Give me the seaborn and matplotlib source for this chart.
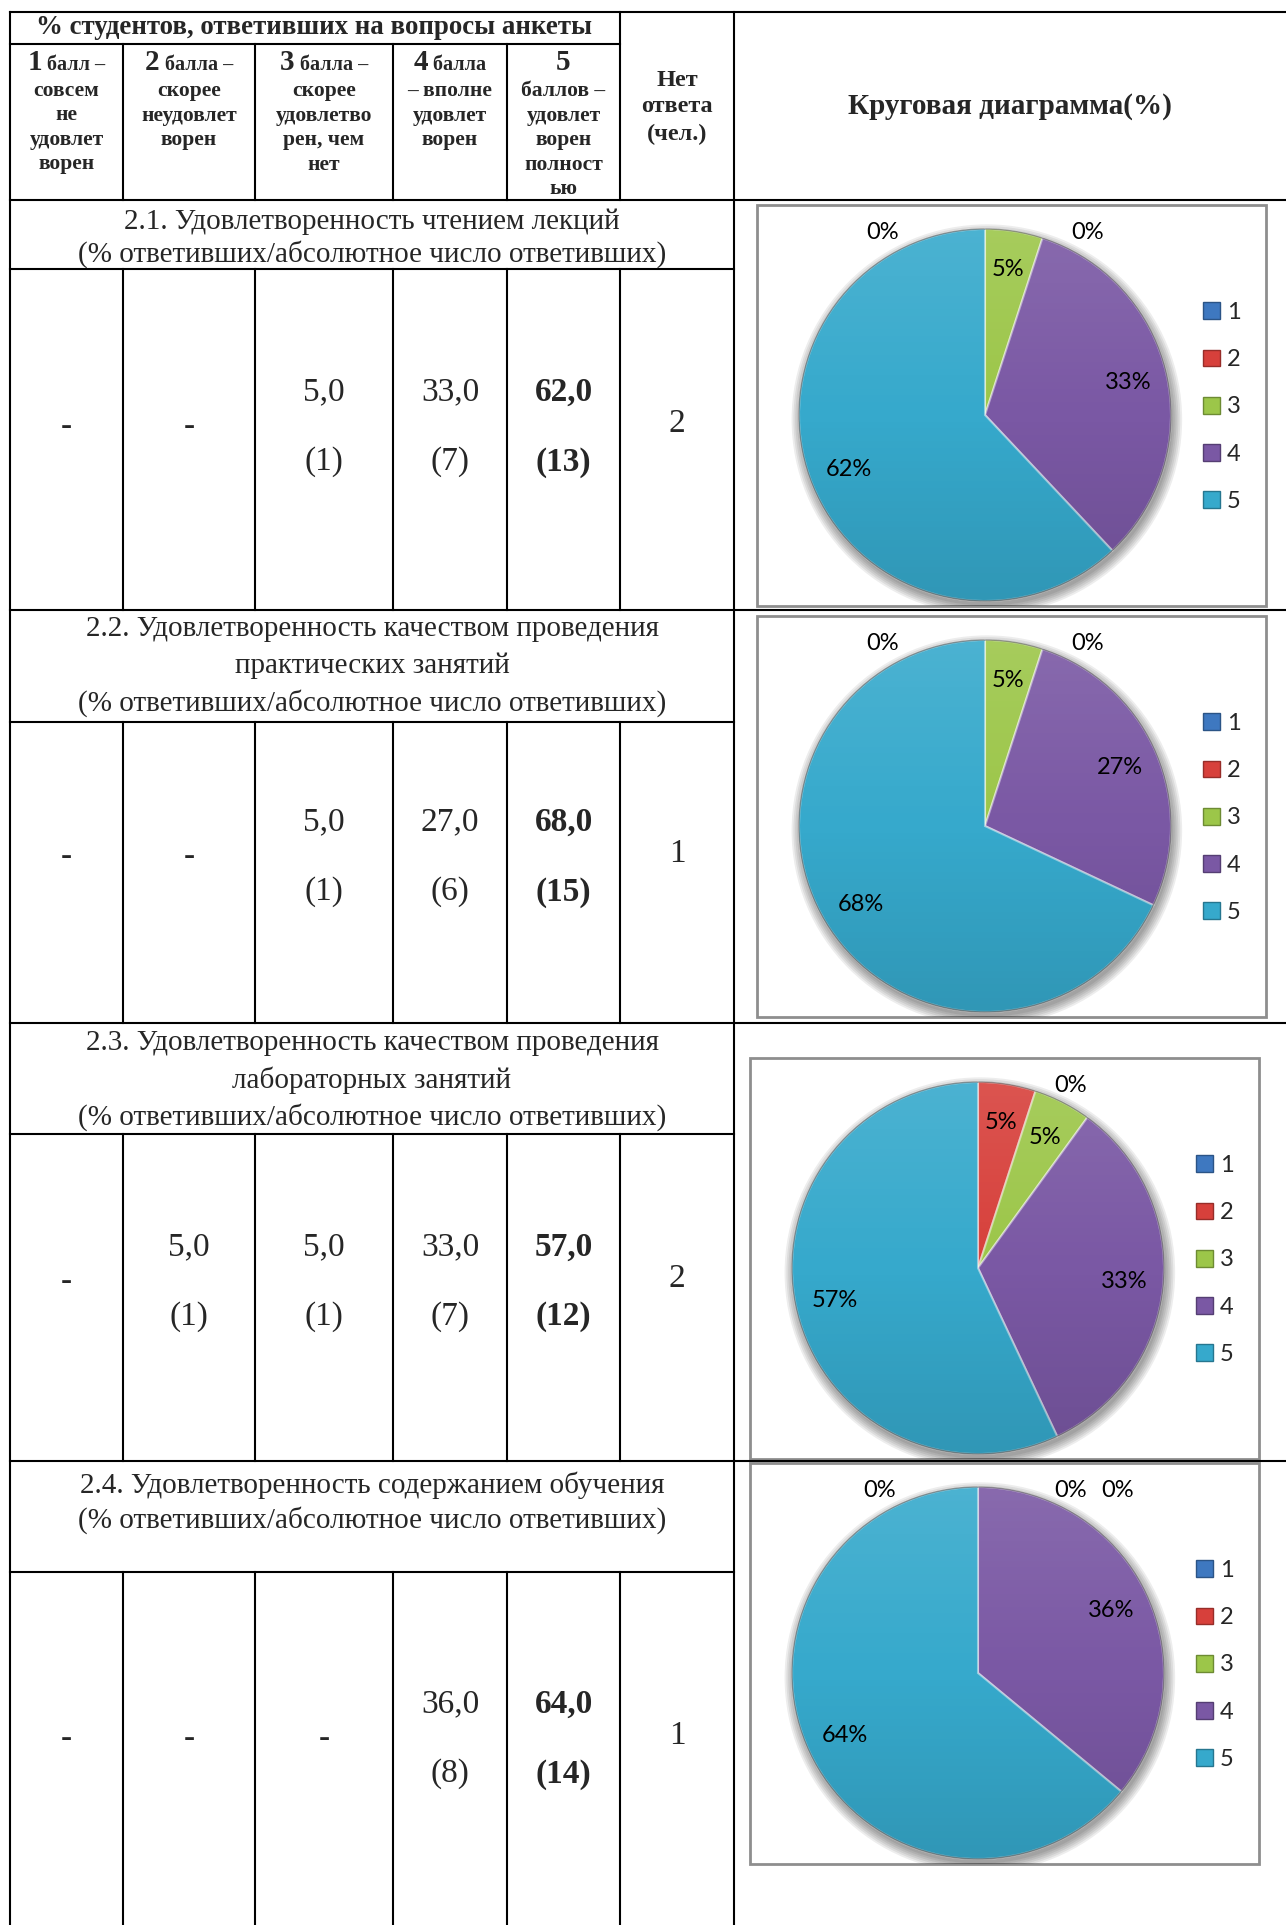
import matplotlib
matplotlib.use("Agg")
import matplotlib.pyplot as plt
import numpy as np
import seaborn as sns
from matplotlib.patches import Rectangle, Circle, Patch

# ---- data ----
categories = ["1", "2", "3", "4", "5"]

section_titles = [
    ["2.1. Удовлетворенность чтением лекций",
     "(% ответивших/абсолютное число ответивших)"],
    ["2.2. Удовлетворенность качеством проведения",
     "практических занятий",
     "(% ответивших/абсолютное число ответивших)"],
    ["2.3. Удовлетворенность качеством проведения",
     "лабораторных занятий",
     "(% ответивших/абсолютное число ответивших)"],
    ["2.4. Удовлетворенность содержанием обучения",
     "(% ответивших/абсолютное число ответивших)"],
]

pct_lectures = [0, 0, 5.0, 33.0, 62.0]
pct_practice = [0, 0, 5.0, 27.0, 68.0]
pct_labs = [0, 5.0, 5.0, 33.0, 57.0]
pct_content = [0, 0, 0, 36.0, 64.0]

cnt_lectures = [0, 0, 1, 7, 13]
cnt_practice = [0, 0, 1, 6, 15]
cnt_labs = [0, 1, 1, 7, 12]
cnt_content = [0, 0, 0, 8, 14]

no_answer = [2, 1, 2, 1]

header_title = "% студентов, ответивших на вопросы анкеты"
header_digits = ["1", "2", "3", "4", "5"]
header_first_rest = [" балл –", " балла –", " балла –", " балла", ""]
header_lines = [
    ["совсем", "не", "удовлет", "ворен"],
    ["скорее", "неудовлет", "ворен"],
    ["скорее", "удовлетво", "рен, чем", "нет"],
    ["– вполне", "удовлет", "ворен"],
    ["баллов –", "удовлет", "ворен", "полност", "ью"],
]
no_answer_header = ["Нет", "ответа", "(чел.)"]
pie_header = "Круговая диаграмма(%)"

pct_all = [pct_lectures, pct_practice, pct_labs, pct_content]
cnt_all = [cnt_lectures, cnt_practice, cnt_labs, cnt_content]

# ---- layout (pixels, y down) ----
W, H = 1286, 1925
COLS = [10, 123, 255, 393, 507, 620, 734]
SEC_TOP = [200, 610, 1023, 1461]
TITLE_BOTTOM = [269, 722, 1134, 1572]
TITLE_Y0 = [222, 629, 1043, 1485]
TITLE_STEP = [32, 37, 37, 35]
ROW_CENTER = [427, 857, 1282, 1739]
BOXES = [(757, 205), (757, 616), (750, 1058), (750, 1463)]
BOX_W, BOX_H = 509, 401
PIE_OFF = (228, 210)
R = 186
ZERO_LABEL_X = [[-0.55, 0.55], [-0.55, 0.55], [0.50], [-0.53, 0.50, 0.75]]
ZERO_LABEL_Y = 0.98

SERIF = ["Liberation Serif", "DejaVu Serif"]
SANS = ["Lato", "DejaVu Sans"]
LW = 1.5

sns.set_theme(style="white")
plt.rcParams["font.family"] = SERIF
colors = sns.color_palette(["#3E78C0", "#D7403B", "#9CC649", "#7A58A4", "#36A9CC"])

fig = plt.figure(figsize=(W / 100, H / 100), dpi=100)
bg = fig.add_axes([0, 0, 1, 1])
bg.set_xlim(0, W)
bg.set_ylim(H, 0)
bg.axis("off")


def hline(y, x0, x1):
    bg.plot([x0, x1], [y, y], color="black", lw=LW, solid_capstyle="projecting")


def vline(x, y0, y1):
    bg.plot([x, x], [y0, y1], color="black", lw=LW, solid_capstyle="projecting")


# table grid
hline(12, COLS[0], W)
hline(44, COLS[0], COLS[5])
vline(COLS[0], 12, H)
vline(COLS[6], 12, H)
vline(COLS[5], 12, SEC_TOP[0])
for x in COLS[1:5]:
    vline(x, 44, SEC_TOP[0])
for s in range(4):
    hline(SEC_TOP[s], COLS[0], W)
    hline(TITLE_BOTTOM[s], COLS[0], COLS[6])
    y_end = SEC_TOP[s + 1] if s < 3 else H
    for x in COLS[1:6]:
        vline(x, TITLE_BOTTOM[s], y_end)

centers = [(COLS[i] + COLS[i + 1]) / 2 for i in range(6)]

# header
bg.text(314, 28, header_title, ha="center", va="center", fontsize=19.4, fontweight="bold")
renderer = fig.canvas.get_renderer()
for j in range(5):
    t1 = bg.text(0, 70, header_digits[j], ha="left", va="baseline", fontsize=21, fontweight="bold")
    t2 = bg.text(0, 70, header_first_rest[j], ha="left", va="baseline", fontsize=14.5, fontweight="bold")
    w1 = t1.get_window_extent(renderer).width
    w2 = t2.get_window_extent(renderer).width if header_first_rest[j] else 0
    x0 = centers[j] - (w1 + w2) / 2
    t1.set_x(x0)
    t2.set_x(x0 + w1)
    for k, line in enumerate(header_lines[j]):
        bg.text(centers[j], 91 + 24.5 * k, line, ha="center", va="center", fontsize=15.5, fontweight="bold")
for k, line in enumerate(no_answer_header):
    bg.text(centers[5], 80 + 27 * k, line, ha="center", va="center", fontsize=17.5, fontweight="bold")
bg.text((COLS[6] + W) / 2, 107, pie_header, ha="center", va="center", fontsize=21, fontweight="bold")

# sections
for s in range(4):
    for k, line in enumerate(section_titles[s]):
        bg.text((COLS[0] + COLS[6]) / 2, TITLE_Y0[s] + TITLE_STEP[s] * k, line,
                ha="center", va="center", fontsize=21)
    c = ROW_CENTER[s]
    pct, cnt = pct_all[s], cnt_all[s]
    for j in range(5):
        weight = "bold" if j == 4 else "normal"
        if pct[j] == 0:
            bg.text(centers[j], c, "-", ha="center", va="center", fontsize=24)
        else:
            bg.text(centers[j], c - 35, f"{pct[j]:.1f}".replace(".", ","),
                    ha="center", va="center", fontsize=24, fontweight=weight)
            bg.text(centers[j], c + 35, f"({cnt[j]})",
                    ha="center", va="center", fontsize=24, fontweight=weight)
    bg.text(centers[5], c - 3, str(no_answer[s]), ha="center", va="center", fontsize=24)

    # pie chart box
    bx, by = BOXES[s]
    bg.add_patch(Rectangle((bx, by), BOX_W, BOX_H, fill=False, edgecolor="#8e8e8e", lw=2))
    ax = fig.add_axes([bx / W, 1 - (by + BOX_H) / H, BOX_W / W, BOX_H / H])

    for k in range(6):
        ax.add_patch(Circle((0.01, -0.025), 1.0 + 0.01 * k, color="black", alpha=0.07, lw=0, zorder=0))

    wedges, _, autotexts = ax.pie(
        pct, colors=colors, startangle=90, counterclock=False, radius=1,
        autopct=lambda p: f"{p:.0f}%", pctdistance=0.79,
        textprops=dict(fontsize=17, family=SANS, color="black"),
        wedgeprops=dict(edgecolor=(1, 1, 1, 0.45), linewidth=1.5),
    )
    for w in wedges:
        w.set_zorder(2)

    # soft top-to-bottom shading like the original 3D look
    grad = np.zeros((256, 1, 4))
    tt = np.linspace(0, 1, 256)
    grad[:, 0, :3] = np.where(tt[:, None] < 0.5, 1.0, 0.0)
    grad[:, 0, 3] = np.abs(tt - 0.5) * 0.22
    clip = Circle((0, 0), 1, transform=ax.transData)
    im = ax.imshow(grad, extent=(-1, 1, -1, 1), origin="upper", aspect="auto", zorder=3)
    im.set_clip_path(clip)
    ax.add_patch(Circle((0, 0), 1, fill=False, edgecolor=(0, 0, 0, 0.35), lw=1, zorder=4))

    zi = 0
    for j, t in enumerate(autotexts):
        t.set_zorder(5)
        if pct[j] == 0:
            t.set_position((ZERO_LABEL_X[s][zi], ZERO_LABEL_Y))
            zi += 1

    ax.set_xlim(-PIE_OFF[0] / R, (BOX_W - PIE_OFF[0]) / R)
    ax.set_ylim(-(BOX_H - PIE_OFF[1]) / R, PIE_OFF[1] / R)
    ax.set_aspect("auto")
    ax.axis("off")

    handles = [Patch(facecolor=colors[i], edgecolor=tuple(np.array(colors[i]) * 0.7)) for i in range(5)]
    ax.legend(handles, categories, loc="upper left",
              bbox_to_anchor=(bx + 446, by + 97), bbox_transform=bg.transData,
              frameon=False, borderpad=0, borderaxespad=0,
              handlelength=0.72, handleheight=0.72, handletextpad=0.3,
              labelspacing=1.11, prop=dict(family=SANS, size=17))

fig.savefig("out.png", dpi=100)
